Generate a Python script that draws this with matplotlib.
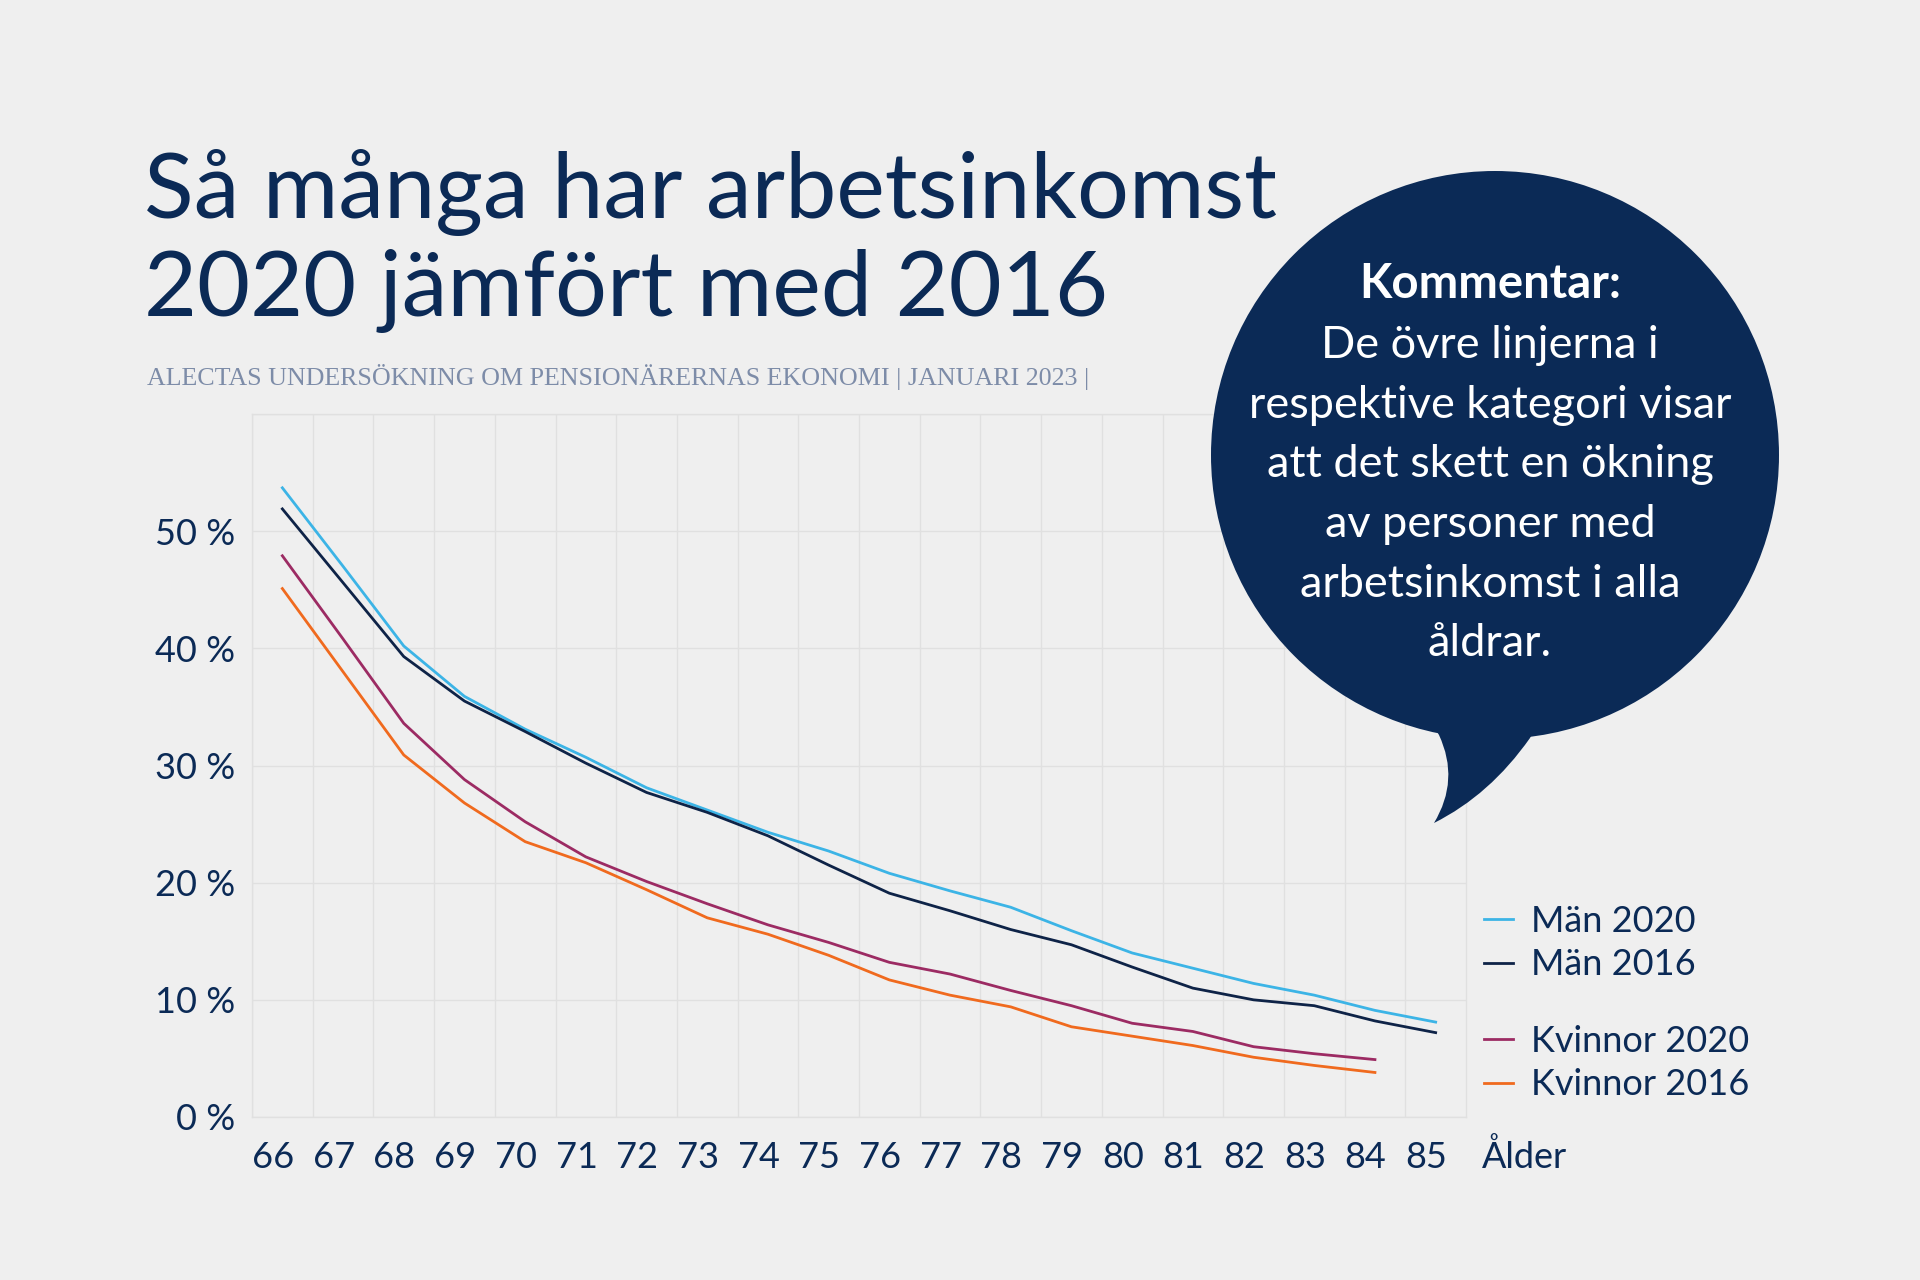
import matplotlib
matplotlib.use("Agg")
import matplotlib.pyplot as plt
from matplotlib.patches import Circle, PathPatch
from matplotlib.path import Path

# data
ages = list(range(66, 86))
ages_kv = list(range(66, 85))
man_2020 = [53.7, 47.0, 40.2, 35.9, 33.1, 30.7, 28.1, 26.2, 24.3, 22.7,
            20.8, 19.3, 17.9, 15.9, 14.0, 12.7, 11.4, 10.4, 9.1, 8.1]
man_2016 = [51.9, 45.6, 39.3, 35.5, 32.9, 30.2, 27.7, 26.0, 24.0, 21.5,
            19.1, 17.6, 16.0, 14.7, 12.8, 11.0, 10.0, 9.5, 8.2, 7.2]
kvinnor_2020 = [47.9, 40.8, 33.6, 28.8, 25.2, 22.2, 20.1, 18.2, 16.4, 14.9,
                13.2, 12.2, 10.8, 9.5, 8.0, 7.3, 6.0, 5.4, 4.9]
kvinnor_2016 = [45.1, 38.0, 30.9, 26.8, 23.5, 21.7, 19.4, 17.0, 15.6, 13.8,
                11.7, 10.4, 9.4, 7.7, 6.9, 6.1, 5.1, 4.4, 3.8]
y_ticks = [0, 10, 20, 30, 40, 50]
y_labels = ["0 %", "10 %", "20 %", "30 %", "40 %", "50 %"]

title_lines = ["Så många har arbetsinkomst", "2020 jämfört med 2016"]
subtitle = "ALECTAS UNDERSÖKNING OM PENSIONÄRERNAS EKONOMI | JANUARI 2023 |"
comment_head = "Kommentar:"
comment_lines = ["De övre linjerna i", "respektive kategori visar",
                 "att det skett en ökning", "av personer med",
                 "arbetsinkomst i alla", "åldrar."]

BG = "#efefef"
NAVY = "#0b2a56"
GRID = "#e0e0e0"
c_m20 = "#3cb4e6"
c_m16 = "#0e2347"
c_k20 = "#9c2b63"
c_k16 = "#f06a1e"

plt.rcParams["font.family"] = ["Lato", "DejaVu Sans"]

W, H = 1920, 1280
fig = plt.figure(figsize=(19.2, 12.8), dpi=100, facecolor=BG)

# main plot area (pixel box from reference)
left, right, top, bottom = 252, 1466, 414, 1117
ax = fig.add_axes([left / W, 1 - bottom / H, (right - left) / W, (bottom - top) / H])
ax.set_facecolor(BG)

l1, = ax.plot(ages, man_2020, color=c_m20, lw=2, label="Män 2020")
l2, = ax.plot(ages, man_2016, color=c_m16, lw=2, label="Män 2016")
l3, = ax.plot(ages_kv, kvinnor_2020, color=c_k20, lw=2, label="Kvinnor 2020")
l4, = ax.plot(ages_kv, kvinnor_2016, color=c_k16, lw=2, label="Kvinnor 2016")

ax.set_xlim(65.5, 85.5)
ax.set_ylim(0, 60)
ax.set_xticks([a - 0.5 for a in ages])
ax.set_xticklabels([str(a) for a in ages])
ax.set_yticks(y_ticks)
ax.set_yticklabels(y_labels)
ax.set_yticks([60], minor=True)
ax.grid(True, which="both", color=GRID, lw=1)
ax.set_axisbelow(True)
ax.tick_params(axis="both", length=0, labelsize=26, labelcolor=NAVY)
ax.tick_params(axis="x", pad=17)
ax.tick_params(axis="y", pad=12)
ax.tick_params(which="minor", length=0)
for lab in ax.get_xticklabels():
    lab.set_ha("left")
for s in ax.spines.values():
    s.set_color(GRID)
    s.set_linewidth(1)

leg_kw = dict(loc="center left", bbox_transform=fig.transFigure, frameon=False,
              fontsize=26, labelcolor=NAVY, handlelength=0.8, handletextpad=0.5,
              labelspacing=0.3, borderpad=0, borderaxespad=0)
leg1 = ax.legend(handles=[l1, l2], bbox_to_anchor=(1484 / W, 1 - 943 / H), **leg_kw)
ax.add_artist(leg1)
ax.legend(handles=[l3, l4], bbox_to_anchor=(1484 / W, 1 - 1063 / H), **leg_kw)

fig.text(1482 / W, 1 - 1157 / H, "Ålder", fontsize=26, color=NAVY, va="center")

# titles
fig.text(144 / W, 1 - 218 / H, title_lines[0], fontsize=66, color=NAVY, va="baseline")
fig.text(144 / W, 1 - 316 / H, title_lines[1], fontsize=66, color=NAVY, va="baseline")
fig.text(147 / W, 1 - 377 / H, subtitle, fontsize=18.7, color="#7d8ca8", va="center",
         family=["Liberation Serif", "DejaVu Serif"])

# speech bubble in pixel coordinates
ov = fig.add_axes([0, 0, 1, 1], zorder=5)
ov.set_xlim(0, W)
ov.set_ylim(H, 0)
ov.axis("off")
ov.add_patch(Circle((1495, 455), 284, color=NAVY, lw=0))
tail = Path([(1430, 720), (1439, 735), (1460, 780), (1434, 823),
             (1490, 795), (1530, 738), (1540, 720), (1430, 720)],
            [Path.MOVETO, Path.LINETO, Path.CURVE3, Path.CURVE3,
             Path.CURVE3, Path.CURVE3, Path.LINETO, Path.CLOSEPOLY])
ov.add_patch(PathPatch(tail, color=NAVY, lw=0))

ov.text(1490, 298, comment_head, fontsize=34, fontweight="bold", color="white",
        ha="center", va="baseline")
for i, line in enumerate(comment_lines):
    ov.text(1490, 358 + i * 59.7, line, fontsize=32.5, color="white",
            ha="center", va="baseline")

fig.savefig("out.png", dpi=100, facecolor=BG)
